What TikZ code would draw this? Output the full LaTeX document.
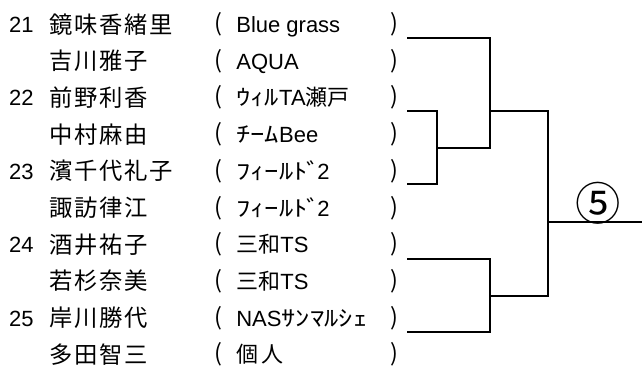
\documentclass[tikz,border=0pt]{standalone}
\usepackage{fontspec}
\setmainfont{Liberation Sans}
\newfontfamily\jp{Noto Sans CJK JP}
\newfontfamily\hk[FakeStretch=1.3]{Noto Sans CJK JP}
\newfontfamily\jpname[LetterSpace=7]{Noto Sans CJK JP}
\begin{document}
\begin{tikzpicture}[x=0.75pt,y=-0.75pt,line width=2pt,
		every node/.style={inner sep=0pt,font=\fontsize{16.5}{18}\selectfont},
		seed/.style={anchor=base east},
		player/.style={anchor=base west,font=\fontsize{17.5}{18}\selectfont\jpname},
		club/.style={anchor=base west},
		paren/.style={anchor=base,font=\fontsize{17.5}{18}\selectfont\jp}]
		\useasboundingbox (0,0) rectangle (642,368);
		% rows of the draw
		\foreach \i/\s/\p/\c in {0/21/鏡味香緒里/Blue grass, 1//吉川雅子/AQUA,
				2/22/前野利香/{{\hk ｳｨﾙ}TA{\jp 瀬戸}}, 3//中村麻由/{{\hk ﾁｰﾑ}Bee},
				4/23/濱千代礼子/{{\hk ﾌｨｰﾙﾄ\kern-1pt ﾞ\kern-2.5pt}2}, 5//諏訪律江/{{\hk ﾌｨｰﾙﾄ\kern-1pt ﾞ\kern-2.5pt}2},
				6/24/酒井祐子/{{\jp 三和}TS}, 7//若杉奈美/{{\jp 三和}TS},
				8/25/岸川勝代/{NAS{\hk ｻﾝﾏﾙｼｪ}}, 9//多田智三/{{\jp 個\,人}}}{
			\node[seed] (s\i) at (35,{32.5+36.7*\i}) {\s};
			\node[player] (p\i) at (48,{33+36.7*\i}) {\p};
			\node[paren] (l\i) at (218,{31.5+36.7*\i}) {(};
			\node[club] (c\i) at (235,{32.5+36.7*\i}) {\c};
			\node[paren] (r\i) at (394,{31.5+36.7*\i}) {)};
		}
		% bracket
		\coordinate (a1) at (407,38);
		\coordinate (a2) at (407,111);
		\coordinate (a3) at (407,184);
		\coordinate (a4) at (407,259);
		\coordinate (a5) at (407,332);
		\coordinate (j1) at (437,148);
		\coordinate (j2) at (490,111);
		\coordinate (j3) at (490,296);
		\coordinate (j4) at (548,222);
		\coordinate (w) at (642,222);
		\draw (a2) -| (j1) |- (a3);
		\draw (a1) -| (j2) |- (j1);
		\draw (a4) -| (j3) |- (a5);
		\draw (j2) -| (j4) |- (j3);
		\draw (j4) -- (w);
		\node[font=\fontsize{34}{36}\selectfont\jp] (rank) at (598,203) {⑤};
\end{tikzpicture}
\end{document}
